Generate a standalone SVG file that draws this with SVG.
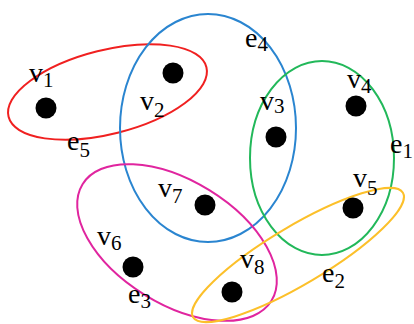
<svg xmlns="http://www.w3.org/2000/svg" width="414" height="324" viewBox="0 0 414 324">
<style>
.e{fill:none;stroke-width:2}
.d{fill:#000}
text{font-family:"Liberation Serif","Times New Roman",serif;font-size:28px;fill:#000}
.s{font-size:21px}
</style>
<rect width="414" height="324" fill="#fff"/>
<g id="connectors">
<ellipse class="e" stroke="#f02020" cx="107.5" cy="92" rx="102" ry="42" transform="rotate(-14.1 107.5 92)"/>
<ellipse class="e" stroke="#2a85d0" cx="208" cy="128" rx="88" ry="114"/>
<ellipse class="e" stroke="#22b85a" cx="322" cy="158" rx="72" ry="97"/>
<ellipse class="e" stroke="#e0259f" cx="177" cy="242.5" rx="111" ry="61.5" transform="rotate(31.7 177 242.5)"/>
<ellipse class="e" stroke="#fcc02a" cx="298" cy="255" rx="122" ry="29" transform="rotate(-30.7 298 255)"/>
<text x="67" y="150">e<tspan class="s" dy="7">5</tspan></text>
<text x="245" y="47">e<tspan class="s" dy="4">4</tspan></text>
<text x="390" y="153">e<tspan class="s" dy="5">1</tspan></text>
<text x="128" y="303">e<tspan class="s" dy="5">3</tspan></text>
<text x="322" y="282">e<tspan class="s" dy="6">2</tspan></text>
</g>
<g id="v1"><circle class="d" cx="46" cy="108" r="10.5"/><text x="29" y="82">v<tspan class="s" dy="5">1</tspan></text></g>
<g id="v2"><circle class="d" cx="173" cy="73" r="10.5"/><text x="140" y="110">v<tspan class="s" dy="7">2</tspan></text></g>
<g id="v3"><circle class="d" cx="276" cy="137" r="10.5"/><text x="260" y="110">v<tspan class="s" dy="3">3</tspan></text></g>
<g id="v4"><circle class="d" cx="356" cy="106" r="10.5"/><text x="347" y="88">v<tspan class="s" dy="5">4</tspan></text></g>
<g id="v5"><circle class="d" cx="353" cy="208" r="10.5"/><text x="353" y="187">v<tspan class="s" dy="8">5</tspan></text></g>
<g id="v6"><circle class="d" cx="133" cy="267" r="10.5"/><text x="97" y="245">v<tspan class="s" dy="5">6</tspan></text></g>
<g id="v7"><circle class="d" cx="205" cy="205" r="10.5"/><text x="158" y="197">v<tspan class="s" dy="6">7</tspan></text></g>
<g id="v8"><circle class="d" cx="232" cy="292" r="10.5"/><text x="240" y="268">v<tspan class="s" dy="6">8</tspan></text></g>
</svg>
